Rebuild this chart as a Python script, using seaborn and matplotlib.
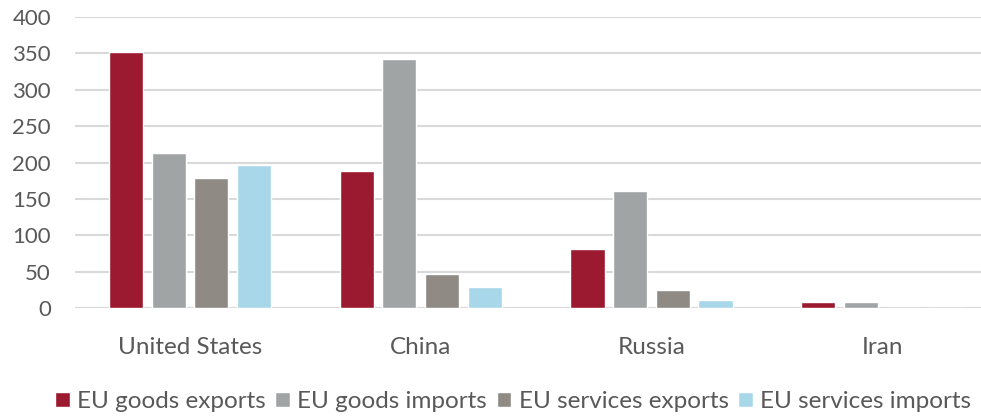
import pandas as pd
import matplotlib.pyplot as plt
import seaborn as sns

# data
countries = ["United States", "China", "Russia", "Iran"]
goods_exports = [352, 188, 81, 8]
goods_imports = [213, 342, 161, 9]
services_exports = [179, 47, 25, 0]
services_imports = [197, 29, 11, 0]
series = ["EU goods exports", "EU goods imports", "EU services exports", "EU services imports"]
colors = ["#9B1A2F", "#A1A4A5", "#8F8B84", "#A8D7E9"]

df = pd.DataFrame({
    "country": countries * 4,
    "series": [s for s in series for _ in countries],
    "value": goods_exports + goods_imports + services_exports + services_imports,
})

sns.set_style("white")
plt.rcParams["font.family"] = ["Lato", "DejaVu Sans"]

fig = plt.figure(figsize=(9.81, 4.17), dpi=100)
# the original chart looks cropped on the right, so the axes run past the edge
ax = fig.add_axes([0.076, 0.261, 0.941, 0.698])

sns.barplot(data=df, x="country", y="value", hue="series", palette=colors,
            saturation=1, width=0.74, gap=0.2, ax=ax, legend=True)

ax.set_ylim(0, 400)
ax.set_yticks(range(0, 401, 50))
ax.yaxis.grid(True, color="#D9D9D9", linewidth=1.5)
ax.set_axisbelow(True)
for s in ax.spines.values():
    s.set_visible(False)
ax.axhline(0, color="#D9D9D9", linewidth=1.5, zorder=0)
ax.set_xlabel("")
ax.set_ylabel("")
ax.tick_params(axis="y", labelsize=16, colors="#595959", length=0, pad=17)
ax.tick_params(axis="x", labelsize=17.5, colors="#595959", length=0, pad=21)

handles, labels = ax.get_legend_handles_labels()
ax.legend(handles, labels, loc="upper center", bbox_to_anchor=(0.475, -0.21),
          ncol=4, frameon=False, fontsize=17.5, handlelength=0.6, handleheight=0.6,
          handletextpad=0.3, columnspacing=0.4, labelcolor="#595959")

fig.savefig("out.png", dpi=100)
